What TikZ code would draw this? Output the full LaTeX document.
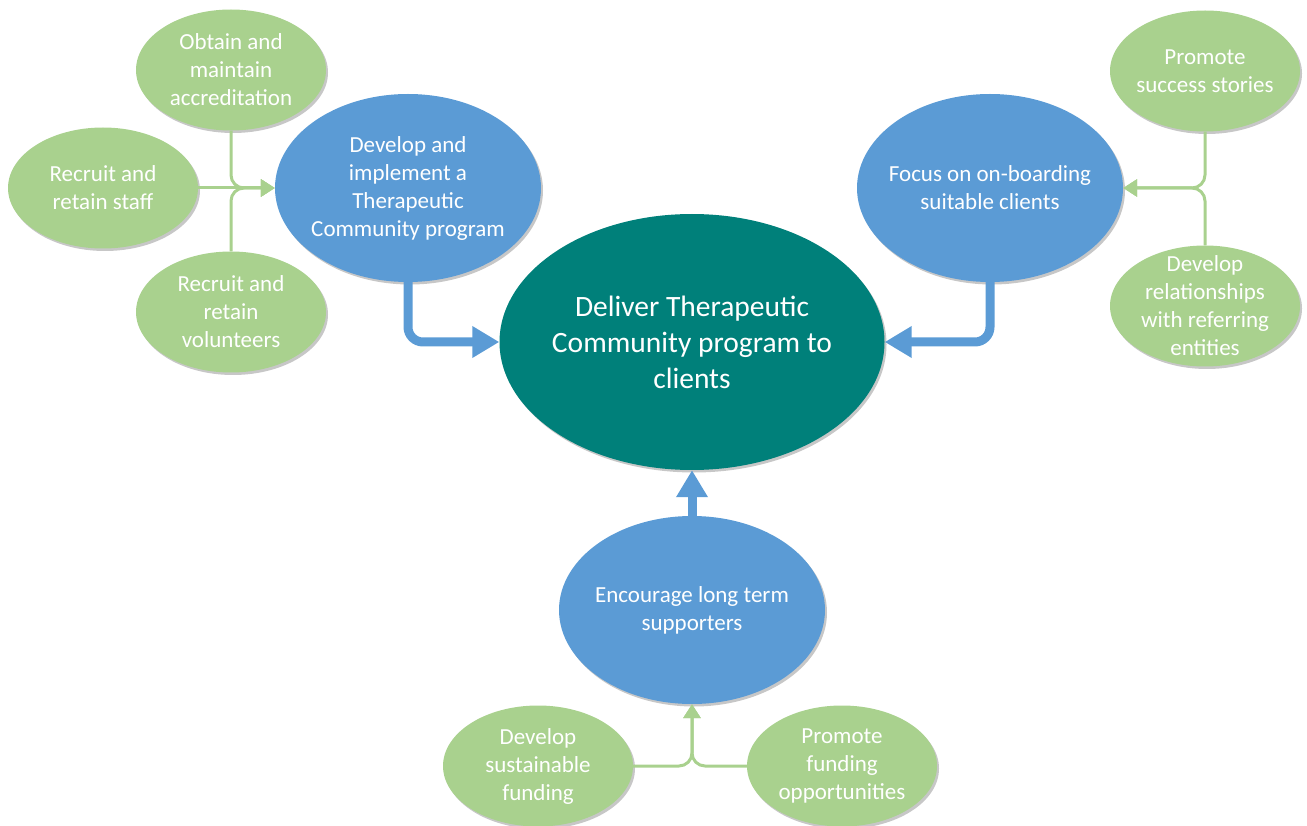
\documentclass[tikz,border=0pt]{standalone}
\usepackage{fontspec}
\setmainfont{Carlito}
\usetikzlibrary{shapes.geometric,arrows.meta,shadows}
\definecolor{lgreen}{HTML}{A9D18E}
\definecolor{mblue}{HTML}{5B9BD5}
\definecolor{dteal}{HTML}{00807A}
\tikzset{
  base/.style={ellipse, inner sep=-60pt, align=center, text=white,
    drop shadow={shadow xshift=2pt, shadow yshift=-2.5pt, opacity=0.22, fill=black}},
  leaf/.style={base, fill=lgreen, minimum width=190pt, minimum height=121pt,
    font=\fontsize{23}{28}\selectfont},
  mid/.style={base, fill=mblue, minimum width=266pt, minimum height=188pt,
    font=\fontsize{23}{28}\selectfont},
  core/.style={base, fill=dteal, minimum width=385pt, minimum height=256pt,
    font=\fontsize{29.5}{36}\selectfont},
  gline/.style={draw=lgreen, line width=3pt, rounded corners=13pt,
    -{Triangle[length=14pt,width=17pt]}},
  barrow/.style={draw=mblue, line width=9pt, rounded corners=15pt,
    -{Triangle[length=27pt,width=30pt]}}
}
\begin{document}
\begin{tikzpicture}[x=1pt,y=-1pt]
\useasboundingbox (0,0) rectangle (1307,826);
% nodes
\node[core] (center) at (692,342) {Deliver Therapeutic\\Community program to\\clients};
\node[mid] (dev) at (408,188) {Develop and\\implement a\\Therapeutic\\Community program};
\node[mid] (focus) at (990,188) {Focus on on-boarding\\suitable clients};
\node[mid] (enc) at (692,610) {Encourage long term\\supporters};
\node[leaf] (obtain) at (231,70) {Obtain and\\maintain\\accreditation};
\node[leaf] (staff) at (103,188) {Recruit and\\retain staff};
\node[leaf] (vol) at (231,312) {Recruit and\\retain\\volunteers};
\node[leaf] (succ) at (1205,71) {Promote\\success stories};
\node[leaf] (rel) at (1205,306) {Develop\\relationships\\with referring\\entities};
\node[leaf] (sust) at (538,766) {Develop\\sustainable\\funding};
\node[leaf] (fund) at (842,766) {Promote\\funding\\opportunities};
% green connectors
\draw[gline] (obtain.south) |- (dev.west);
\draw[gline] (vol.north) |- (dev.west);
\draw[gline] (staff.east) -- (dev.west);
\draw[gline] (succ.south) |- (focus.east);
\draw[gline] (rel.north) |- (focus.east);
\draw[gline] (sust.east) -| (enc.south);
\draw[gline] (fund.west) -| (enc.south);
% blue arrows
\draw[barrow] (dev.south) |- (center.west);
\draw[barrow] (focus.south) |- (center.east);
\draw[barrow] (enc.north) -- (center.south);
\end{tikzpicture}
\end{document}
